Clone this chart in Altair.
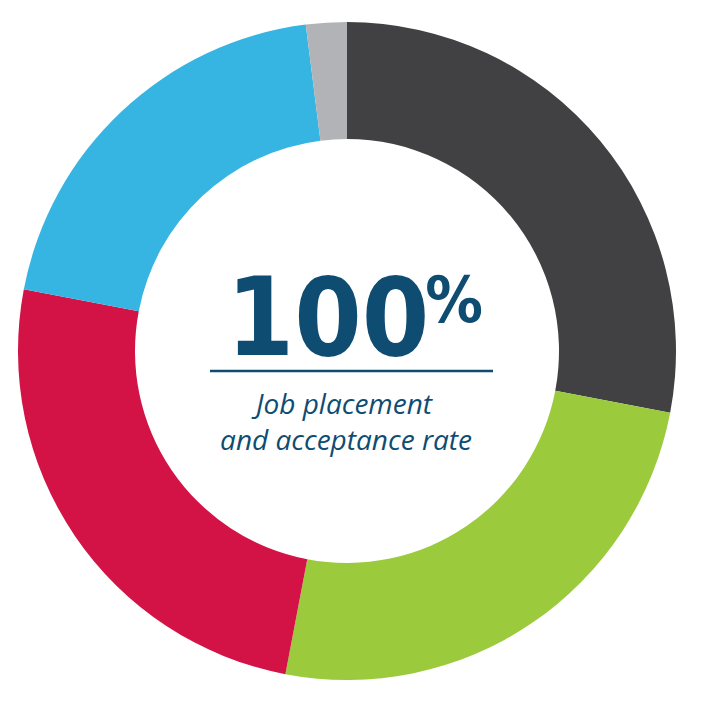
import altair as alt
import pandas as pd

segments = ["Segment 1", "Segment 2", "Segment 3", "Segment 4", "Segment 5"]
shares = [28, 25, 25, 20, 2]
colors = ["#414042", "#9bca3c", "#d31245", "#36b5e2", "#b1b3b6"]

headline_number = "100"
headline_unit = "%"
subtitle_lines = ["Job placement", "and acceptance rate"]

df = pd.DataFrame({"segment": segments, "share": shares, "idx": list(range(len(segments)))})

text_color = "#0f4c72"
cond_font = "'DejaVu Sans Condensed', 'Liberation Sans Narrow', Roboto, sans-serif"

donut = alt.Chart(df).mark_arc(outerRadius=329, innerRadius=212, stroke=None).encode(
    theta=alt.Theta("share:Q", stack=True),
    color=alt.Color("segment:N", scale=alt.Scale(domain=segments, range=colors), legend=None),
    order=alt.Order("idx:Q"),
)

base_txt = alt.Chart(pd.DataFrame({"t": [0]}))

num = base_txt.mark_text(font=cond_font, fontWeight="bold", fontSize=108,
                         color=text_color, align="center", baseline="alphabetic").encode(
    x=alt.value(320), y=alt.value(347), text=alt.value(headline_number))
unit = base_txt.mark_text(font=cond_font, fontWeight="bold", fontSize=64,
                          color=text_color, align="center", baseline="alphabetic").encode(
    x=alt.value(446), y=alt.value(314), text=alt.value(headline_unit))

rule = base_txt.mark_rule(color=text_color, strokeWidth=2.5).encode(
    x=alt.value(202), x2=alt.value(485), y=alt.value(363))

sub1 = base_txt.mark_text(font="Open Sans", fontStyle="italic", fontSize=28,
                          color=text_color, align="center", baseline="alphabetic").encode(
    x=alt.value(336), y=alt.value(406), text=alt.value(subtitle_lines[0]))
sub2 = base_txt.mark_text(font="Open Sans", fontStyle="italic", fontSize=28,
                          color=text_color, align="center", baseline="alphabetic").encode(
    x=alt.value(338), y=alt.value(442), text=alt.value(subtitle_lines[1]))

chart = alt.layer(donut, num, unit, rule, sub1, sub2).properties(
    width=678, height=686, padding=0, autosize=alt.AutoSizeParams(type="none"),
    background="white",
).configure_view(stroke=None)

chart.save("out.html", embed_options={"renderer": "svg", "actions": False})
